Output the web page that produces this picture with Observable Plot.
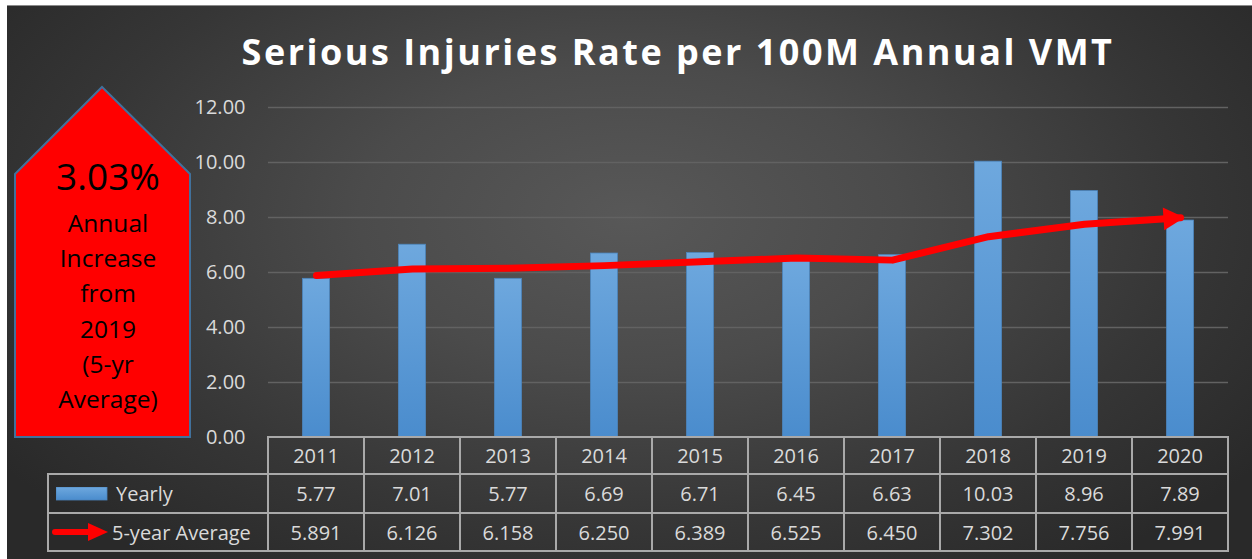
<!DOCTYPE html>
<html>
<head>
<meta charset="utf-8">
<script src="https://cdn.jsdelivr.net/npm/d3@7"></script>
<script src="https://cdn.jsdelivr.net/npm/@observablehq/plot@0.6"></script>
<style>
  html, body { margin: 0; padding: 0; background: #fff; width: 1252px; height: 559px; overflow: hidden; }
  #page { position: relative; width: 1252px; height: 559px; font-family: "Open Sans", sans-serif; }
  #panel { position: absolute; left: 7px; top: 5px; width: 1245px; height: 554px; box-sizing: border-box;
           border-top: 1px solid #8a8a8a;
           background: radial-gradient(ellipse 62% 78% at 50% 38%, #585858 0%, #4b4b4b 35%, #363636 72%, #292929 100%); }
  #title { position: absolute; left: 78px; top: 34px; width: 1200px; text-align: center; color: #fff;
           font: bold 36px/36px "Open Sans", sans-serif; letter-spacing: 2.5px; }
  #chart { position: absolute; left: 0; top: 0; }
  #callout { position: absolute; left: 0; top: 0; }
  .cell { position: absolute; box-sizing: border-box; border: 2px solid #a9a9a9; color: #dadada;
          font: 20px "Open Sans", sans-serif; display: flex; align-items: center; justify-content: center; }
  .legcell { justify-content: flex-start; }
</style>
</head>
<body>
<div id="page">
  <div id="panel"></div>
  <div id="title"></div>
  <div id="chart"></div>
  <div id="callout"></div>
  <div id="table"></div>
</div>
<script>
// ---------- data ----------
const years = ["2011", "2012", "2013", "2014", "2015", "2016", "2017", "2018", "2019", "2020"];
const yearly = [5.77, 7.01, 5.77, 6.69, 6.71, 6.45, 6.63, 10.03, 8.96, 7.89];
const fiveYearAvg = [5.891, 6.126, 6.158, 6.250, 6.389, 6.525, 6.450, 7.302, 7.756, 7.991];
const yTicks = [0, 2, 4, 6, 8, 10, 12];
const seriesLabels = ["Yearly", "5-year Average"];
const titleText = "Serious Injuries Rate per 100M Annual VMT";
const calloutLines = ["3.03%", "Annual", "Increase", "from", "2019", "(5-yr", "Average)"];

const data = years.map((year, i) => ({year, yearly: yearly[i], avg: fiveYearAvg[i]}));

document.getElementById("title").textContent = titleText;

const baseOptions = {
  width: 1252, height: 559,
  marginLeft: 268, marginRight: 24, marginTop: 107, marginBottom: 122,
  style: {background: "transparent", color: "#dadada", fontFamily: "'Open Sans', sans-serif", fontSize: "20px", overflow: "visible"},
  x: {type: "band", domain: years, padding: 0, axis: null},
  y: {domain: [0, 12], ticks: yTicks, tickFormat: d3.format(".2f"), tickSize: 0, tickPadding: 23, label: null}
};

// first pass: scales, to orient the arrow head along the last segment
const probe = Plot.plot({...baseOptions, marks: [Plot.line(data, {x: "year", y: "avg"})]});
const sx = probe.scale("x"), sy = probe.scale("y");
const n = years.length;
const cx = i => sx.apply(years[i]) + sx.bandwidth / 2;
const theta = Math.atan2(sy.apply(fiveYearAvg[n - 1]) - sy.apply(fiveYearAvg[n - 2]), cx(n - 1) - cx(n - 2));
const rot = ([px, py]) => [px * Math.cos(theta) - py * Math.sin(theta), px * Math.sin(theta) + py * Math.cos(theta)];
const arrowHead = {
  draw(ctx) {
    const pts = [[4, 0], [-17, -11.5], [-17, 11.5]].map(rot);
    ctx.moveTo(...pts[0]); ctx.lineTo(...pts[1]); ctx.lineTo(...pts[2]); ctx.closePath();
  }
};

const plot = Plot.plot({
  ...baseOptions,
  marks: [
    Plot.ruleY(yTicks.filter(d => d > 0), {stroke: "#626262", strokeWidth: 1.5}),
    Plot.barY(data, {x: "year", y: "yearly", fill: "url(#barGrad)", stroke: "#4d86bd", strokeWidth: 0.8, insetLeft: 34.5, insetRight: 34.5}),
    Plot.line(data, {x: "year", y: "avg", stroke: "#ff0000", strokeWidth: 7, strokeLinejoin: "round"}),
    Plot.dot(data.slice(-1), {x: "year", y: "avg", symbol: arrowHead, r: 10, fill: "#ff0000", stroke: "none"})
  ]
});
// bar gradient
const ns = "http://www.w3.org/2000/svg";
const defs = document.createElementNS(ns, "defs");
defs.innerHTML = `<linearGradient id="barGrad" x1="0" y1="0" x2="0" y2="1">
  <stop offset="0" stop-color="#6ea8de"/><stop offset="1" stop-color="#4a8ccd"/></linearGradient>`;
plot.insertBefore(defs, plot.firstChild);
document.getElementById("chart").appendChild(plot);

// ---------- callout (red house shape) ----------
const callout = document.getElementById("callout");
const y0 = plot.scale("y").apply(0);
let svg = `<svg width="270" height="${y0 + 4}" xmlns="${ns}">
  <polygon points="15,174 102,87 190,174 190,${y0} 15,${y0}" fill="#ff0000" stroke="#41719c" stroke-width="2"/>`;
const baselines = [190, 232, 267, 302, 338, 373, 408];
calloutLines.forEach((t, i) => {
  svg += `<text x="108" y="${baselines[i]}" text-anchor="middle" font-family="Open Sans, sans-serif" font-size="${i === 0 ? 37 : 24.5}" fill="#000">${t}</text>`;
});
svg += `</svg>`;
callout.innerHTML = svg;

// ---------- data table ----------
const table = document.getElementById("table");
const xs = plot.scale("x");
const rowTops = [y0, y0 + 37, y0 + 76, y0 + 114];
const legLeft = 48, legRight = xs.apply(years[0]);
function cell(left, top, w, h, html, cls) {
  const d = document.createElement("div");
  d.className = "cell" + (cls ? " " + cls : "");
  Object.assign(d.style, {left: (left - 1) + "px", top: (top - 1) + "px", width: (w + 2) + "px", height: (h + 2) + "px"});
  d.innerHTML = html;
  table.appendChild(d);
}
const f2 = d3.format(".2f"), f3 = d3.format(".3f");
years.forEach((yr, i) => {
  const l = xs.apply(yr), w = xs.bandwidth;
  cell(l, rowTops[0], w, rowTops[1] - rowTops[0], yr);
  cell(l, rowTops[1], w, rowTops[2] - rowTops[1], f2(yearly[i]));
  cell(l, rowTops[2], w, rowTops[3] - rowTops[2], f3(fiveYearAvg[i]));
});
const swatch = `<svg width="58" height="14" style="margin-left:7px;margin-right:2px"><defs><linearGradient id="sw" x1="0" y1="0" x2="0" y2="1"><stop offset="0" stop-color="#6ea8de"/><stop offset="1" stop-color="#4a8ccd"/></linearGradient></defs><rect x="0" y="0" width="51" height="13" fill="url(#sw)" stroke="#4d86bd" stroke-width="0.8"/></svg>`;
const arrowIcon = `<svg width="60" height="22" style="margin-left:3px;margin-right:0px"><path d="M3,11 L38,11" stroke="#ff0000" stroke-width="6" stroke-linecap="round"/><polygon points="36,2 56,11 36,20" fill="#ff0000"/></svg>`;
cell(legLeft, rowTops[1], legRight - legLeft, rowTops[2] - rowTops[1], swatch + `<span>${seriesLabels[0]}</span>`, "legcell");
cell(legLeft, rowTops[2], legRight - legLeft, rowTops[3] - rowTops[2], arrowIcon + `<span>${seriesLabels[1]}</span>`, "legcell");
</script>
</body>
</html>
